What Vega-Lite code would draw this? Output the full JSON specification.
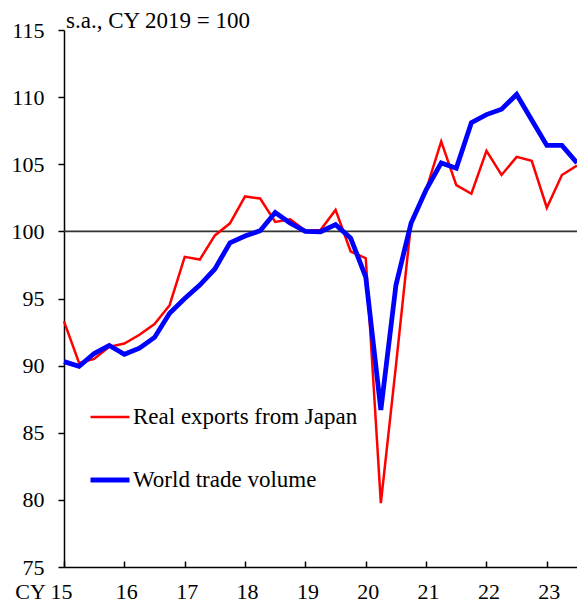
{
  "$schema": "https://vega.github.io/schema/vega-lite/v6.json",
  "autosize": {"type": "none"},
  "padding": {"left": 64, "top": 30, "right": 0, "bottom": 36},
  "width": 513,
  "height": 537,
  "background": "white",
  "config": {
    "font": "Liberation Serif",
    "view": {"stroke": null},
    "axis": {"grid": false, "labelFont": "Liberation Serif"},
    "legend": {"labelFont": "Liberation Serif"}
  },
  "datasets": {
    "series": [
      {"series": "Real exports from Japan", "year": 2015.0, "value": 93.3},
      {"series": "Real exports from Japan", "year": 2015.25, "value": 90.2},
      {"series": "Real exports from Japan", "year": 2015.5, "value": 90.5},
      {"series": "Real exports from Japan", "year": 2015.75, "value": 91.4},
      {"series": "Real exports from Japan", "year": 2016.0, "value": 91.65},
      {"series": "Real exports from Japan", "year": 2016.25, "value": 92.3},
      {"series": "Real exports from Japan", "year": 2016.5, "value": 93.1},
      {"series": "Real exports from Japan", "year": 2016.75, "value": 94.5},
      {"series": "Real exports from Japan", "year": 2017.0, "value": 98.1},
      {"series": "Real exports from Japan", "year": 2017.25, "value": 97.9},
      {"series": "Real exports from Japan", "year": 2017.5, "value": 99.7},
      {"series": "Real exports from Japan", "year": 2017.75, "value": 100.6},
      {"series": "Real exports from Japan", "year": 2018.0, "value": 102.6},
      {"series": "Real exports from Japan", "year": 2018.25, "value": 102.45},
      {"series": "Real exports from Japan", "year": 2018.5, "value": 100.7},
      {"series": "Real exports from Japan", "year": 2018.75, "value": 100.9},
      {"series": "Real exports from Japan", "year": 2019.0, "value": 100.05},
      {"series": "Real exports from Japan", "year": 2019.25, "value": 100.1},
      {"series": "Real exports from Japan", "year": 2019.5, "value": 101.6},
      {"series": "Real exports from Japan", "year": 2019.75, "value": 98.5},
      {"series": "Real exports from Japan", "year": 2020.0, "value": 98.0},
      {"series": "Real exports from Japan", "year": 2020.25, "value": 79.75},
      {"series": "Real exports from Japan", "year": 2020.5, "value": 90.0},
      {"series": "Real exports from Japan", "year": 2020.75, "value": 100.6},
      {"series": "Real exports from Japan", "year": 2021.0, "value": 103.1},
      {"series": "Real exports from Japan", "year": 2021.25, "value": 106.7},
      {"series": "Real exports from Japan", "year": 2021.5, "value": 103.45},
      {"series": "Real exports from Japan", "year": 2021.75, "value": 102.8},
      {"series": "Real exports from Japan", "year": 2022.0, "value": 106.0},
      {"series": "Real exports from Japan", "year": 2022.25, "value": 104.2},
      {"series": "Real exports from Japan", "year": 2022.5, "value": 105.55},
      {"series": "Real exports from Japan", "year": 2022.75, "value": 105.26},
      {"series": "Real exports from Japan", "year": 2023.0, "value": 101.76},
      {"series": "Real exports from Japan", "year": 2023.25, "value": 104.2},
      {"series": "Real exports from Japan", "year": 2023.5, "value": 104.9},
      {"series": "World trade volume", "year": 2015.0, "value": 90.3},
      {"series": "World trade volume", "year": 2015.25, "value": 89.95},
      {"series": "World trade volume", "year": 2015.5, "value": 90.9},
      {"series": "World trade volume", "year": 2015.75, "value": 91.5},
      {"series": "World trade volume", "year": 2016.0, "value": 90.85},
      {"series": "World trade volume", "year": 2016.25, "value": 91.3},
      {"series": "World trade volume", "year": 2016.5, "value": 92.1},
      {"series": "World trade volume", "year": 2016.75, "value": 93.9},
      {"series": "World trade volume", "year": 2017.0, "value": 95.0},
      {"series": "World trade volume", "year": 2017.25, "value": 96.0},
      {"series": "World trade volume", "year": 2017.5, "value": 97.2},
      {"series": "World trade volume", "year": 2017.75, "value": 99.15},
      {"series": "World trade volume", "year": 2018.0, "value": 99.65},
      {"series": "World trade volume", "year": 2018.25, "value": 100.05},
      {"series": "World trade volume", "year": 2018.5, "value": 101.4},
      {"series": "World trade volume", "year": 2018.75, "value": 100.6},
      {"series": "World trade volume", "year": 2019.0, "value": 100.0},
      {"series": "World trade volume", "year": 2019.25, "value": 99.97},
      {"series": "World trade volume", "year": 2019.5, "value": 100.5},
      {"series": "World trade volume", "year": 2019.75, "value": 99.5},
      {"series": "World trade volume", "year": 2020.0, "value": 96.6},
      {"series": "World trade volume", "year": 2020.25, "value": 86.7},
      {"series": "World trade volume", "year": 2020.5, "value": 96.0},
      {"series": "World trade volume", "year": 2020.75, "value": 100.6},
      {"series": "World trade volume", "year": 2021.0, "value": 103.1},
      {"series": "World trade volume", "year": 2021.25, "value": 105.1},
      {"series": "World trade volume", "year": 2021.5, "value": 104.7},
      {"series": "World trade volume", "year": 2021.75, "value": 108.1},
      {"series": "World trade volume", "year": 2022.0, "value": 108.7},
      {"series": "World trade volume", "year": 2022.25, "value": 109.1},
      {"series": "World trade volume", "year": 2022.5, "value": 110.2},
      {"series": "World trade volume", "year": 2022.75, "value": 108.3},
      {"series": "World trade volume", "year": 2023.0, "value": 106.4},
      {"series": "World trade volume", "year": 2023.25, "value": 106.4},
      {"series": "World trade volume", "year": 2023.5, "value": 105.1}
    ],
    "ref": [{"value": 100}],
    "note": [{"text": "s.a., CY 2019 = 100"}]
  },
  "layer": [
    {
      "data": {"name": "ref"},
      "mark": {"type": "rule", "color": "#333333", "strokeWidth": 1.6},
      "encoding": {
        "y": {"field": "value", "type": "quantitative", "scale": {"domain": [75, 115], "nice": false, "zero": false}}
      }
    },
    {
      "data": {"name": "series"},
      "mark": {"type": "line", "strokeJoin": "miter", "strokeCap": "butt"},
      "encoding": {
        "x": {
          "field": "year",
          "type": "quantitative",
          "scale": {"domain": [2015, 2023.5], "nice": false, "zero": false},
          "axis": {
            "title": null,
            "values": [2015, 2016, 2017, 2018, 2019, 2020, 2021, 2022, 2023],
            "labelExpr": "datum.value == 2015 ? 'CY 15' : format(datum.value % 100, '02d')",
            "labelAlign": {"expr": "datum.value == 2015 ? 'right' : 'center'"},
            "labelOffset": {"expr": "datum.value == 2015 ? 8 : 2"},
            "labelFont": "Liberation Serif",
            "labelFontSize": 22,
            "labelColor": "black",
            "labelPadding": 20,
            "labelFlush": false,
            "labelOverlap": false,
            "tickSize": -6,
            "tickColor": "black",
            "tickWidth": 1.5,
            "domainColor": "black",
            "domainWidth": 1.5
          }
        },
        "y": {
          "field": "value",
          "type": "quantitative",
          "scale": {"domain": [75, 115], "nice": false, "zero": false},
          "axis": {
            "title": null,
            "values": [75, 80, 85, 90, 95, 100, 105, 110, 115],
            "labelFont": "Liberation Serif",
            "labelFontSize": 22,
            "labelColor": "black",
            "labelPadding": 14,
            "labelFlush": false,
            "tickSize": 6,
            "tickColor": "black",
            "tickWidth": 1.5,
            "domainColor": "black",
            "domainWidth": 1.5
          }
        },
        "color": {
          "field": "series",
          "type": "nominal",
          "scale": {"domain": ["Real exports from Japan", "World trade volume"], "range": ["#FF0000", "#0000FF"]},
          "legend": {
            "title": null,
            "orient": "none",
            "legendX": 24,
            "legendY": 366,
            "padding": 0,
            "symbolType": "stroke",
            "symbolSize": 1521,
            "labelFont": "Liberation Serif",
            "labelFontSize": 23,
            "labelColor": "black",
            "labelOffset": 1,
            "labelLimit": 0,
            "rowPadding": 29
          }
        },
        "strokeWidth": {
          "field": "series",
          "type": "nominal",
          "scale": {"domain": ["Real exports from Japan", "World trade volume"], "range": [2.5, 4.8]},
          "legend": {
            "title": null,
            "orient": "none",
            "legendX": 24,
            "legendY": 366,
            "padding": 0,
            "symbolType": "stroke",
            "symbolSize": 1521,
            "labelFont": "Liberation Serif",
            "labelFontSize": 23,
            "labelColor": "black",
            "labelOffset": 1,
            "labelLimit": 0,
            "rowPadding": 29
          }
        }
      }
    },
    {
      "data": {"name": "note"},
      "mark": {
        "type": "text",
        "align": "left",
        "baseline": "alphabetic",
        "dx": 2,
        "dy": -2,
        "font": "Liberation Serif",
        "fontSize": 23,
        "color": "black",
        "clip": false
      },
      "encoding": {
        "x": {"datum": 2015, "type": "quantitative"},
        "y": {"datum": 115, "type": "quantitative"},
        "text": {"field": "text", "type": "nominal"}
      }
    }
  ]
}
